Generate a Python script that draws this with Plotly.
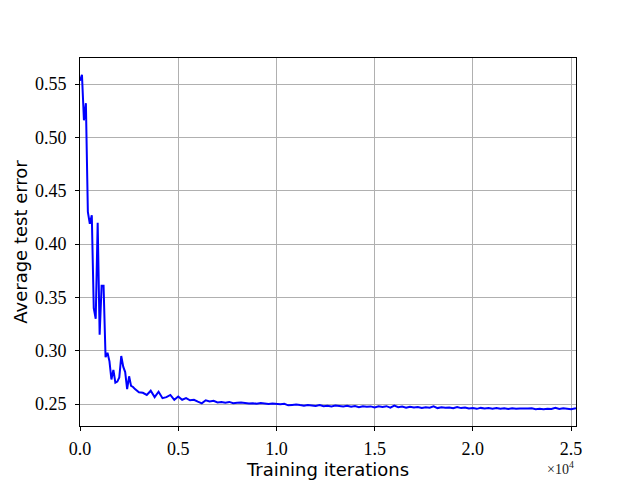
import plotly.graph_objects as go

# iterations: dense at the start, every 200 afterwards
iters = list(range(0, 3001, 100)) + list(range(3200, 25001, 200)) + [25250]

head_err = [
    0.553, 0.5587, 0.516, 0.532, 0.430, 0.419, 0.427, 0.340, 0.330, 0.420,
    0.315, 0.361, 0.361, 0.294, 0.298, 0.290, 0.273, 0.282, 0.270, 0.271,
    0.275, 0.295, 0.285, 0.280, 0.264, 0.276, 0.267, 0.266, 0.264, 0.262,
    0.261,
]
tail_err = [
    0.2605, 0.2585, 0.2625, 0.2565, 0.2615, 0.2555, 0.2565, 0.2585, 0.2540, 0.2570,
    0.2540, 0.2555, 0.2535, 0.2540, 0.2522, 0.2506, 0.2535, 0.2525, 0.2530, 0.2515,
    0.2520, 0.2512, 0.2520, 0.2508, 0.2512, 0.2515, 0.2510, 0.2505, 0.2508, 0.2502,
    0.2510, 0.2505, 0.2500, 0.2505, 0.2500, 0.2498, 0.2502, 0.2488, 0.2492, 0.2496,
    0.2490, 0.2485, 0.2492, 0.2488, 0.2482, 0.2490, 0.2480, 0.2485, 0.2478, 0.2486,
    0.2480, 0.2477, 0.2484, 0.2475, 0.2482, 0.2470, 0.2480, 0.2474, 0.2478, 0.2468,
    0.2479, 0.2472, 0.2480, 0.2467, 0.2485, 0.2470, 0.2476, 0.2465, 0.2474, 0.2468,
    0.2472, 0.2463, 0.2470, 0.2466, 0.2478, 0.2462, 0.2470, 0.2465, 0.2468, 0.2460,
    0.2472, 0.2462, 0.2468, 0.2458, 0.2462, 0.2455, 0.2464, 0.2458, 0.2463, 0.2456,
    0.2462, 0.2455, 0.2460, 0.2454, 0.2461, 0.2456, 0.2459, 0.2462, 0.2458, 0.2460,
    0.2452, 0.2455, 0.2451, 0.2456, 0.2453, 0.2465, 0.2454, 0.2460, 0.2452, 0.2451,
    0.2462,
]
test_err = head_err + tail_err
assert len(iters) == len(test_err), (len(iters), len(test_err))

x_ticks = [0, 5000, 10000, 15000, 20000, 25000]
x_tick_labels = ["0.0", "0.5", "1.0", "1.5", "2.0", "2.5"]
y_ticks = [0.25, 0.30, 0.35, 0.40, 0.45, 0.50, 0.55]
y_tick_labels = ["0.25", "0.30", "0.35", "0.40", "0.45", "0.50", "0.55"]

ymin, ymax = min(test_err), max(test_err)
pad = 0.05 * (ymax - ymin)

serif = "Liberation Serif"
sans = "DejaVu Sans"

fig = go.Figure()
fig.add_trace(go.Scatter(x=iters, y=test_err, mode="lines",
                         line=dict(color="#0000ff", width=2)))

axis_common = dict(showline=True, linecolor="black", linewidth=1, mirror=True,
                   ticks="outside", ticklen=4, tickcolor="black", automargin=False,
                   showgrid=True, gridcolor="#b0b0b0", gridwidth=1,
                   zeroline=False, tickfont=dict(family=serif, size=18, color="black"))

fig.update_xaxes(range=[0, max(iters)], tickvals=x_ticks, ticktext=x_tick_labels,
                 ticklabelstandoff=2,
                 title=dict(text="Training iterations",
                            font=dict(family=sans, size=18, color="black"), standoff=6),
                 **axis_common)
fig.update_yaxes(range=[ymin - pad, ymax + pad], tickvals=y_ticks, ticktext=y_tick_labels,
                 ticklabelstandoff=5,
                 title=dict(text="Average test error",
                            font=dict(family=sans, size=18, color="black"), standoff=2),
                 **axis_common)

fig.add_annotation(x=1, y=0, xref="paper", yref="paper", xanchor="right", yanchor="top",
                   yshift=-31, showarrow=False, text="×10<sup>4</sup>",
                   font=dict(family=serif, size=14, color="#222222"))

fig.update_layout(width=640, height=480, showlegend=False,
                  plot_bgcolor="white", paper_bgcolor="white",
                  margin=dict(l=80, r=64, t=58, b=54))

# drop the browser's default 8px body margin so the figure sits at (0, 0)
fig.write_html("out.html", config={"displayModeBar": False},
               post_script="document.body.style.margin = '0';")
